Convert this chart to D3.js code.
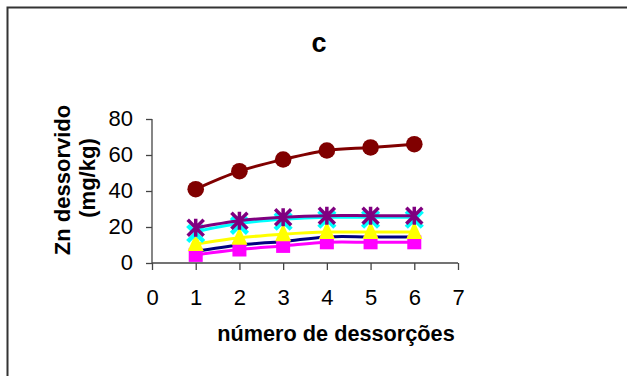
<!DOCTYPE html>
<html>
<head>
<meta charset="utf-8">
<script src="https://cdn.jsdelivr.net/npm/d3@7"></script>
<style>
  body { margin: 0; background: #fff; }
  text { font-family: "Liberation Sans", Arial, sans-serif; }
</style>
</head>
<body>
<svg id="chart" width="627" height="376"></svg>
<script>
// data
const dessorcoes = [1, 2, 3, 4, 5, 6];
const serieNavy = [6.5, 10, 12, 14.5, 14.5, 14.5];
const serieMagenta = [4.5, 7.5, 9.5, 11.5, 11.5, 11.5];
const serieYellow = [10.5, 14, 16, 17.2, 17.2, 17.2];
const serieCyan = [17.5, 22, 24.3, 25.4, 25.4, 25.4];
const seriePurple = [19.6, 23.5, 25.4, 26.3, 26.3, 26.3];
const serieBrown = [41, 51, 57.5, 62.5, 64.2, 66];
const xTicks = [0, 1, 2, 3, 4, 5, 6, 7];
const yTicks = [0, 20, 40, 60, 80];

const series = [
  { values: serieNavy, color: "#000080", marker: "diamond" },
  { values: serieMagenta, color: "#ff00ff", marker: "square" },
  { values: serieYellow, color: "#ffff00", marker: "triangle" },
  { values: serieCyan, color: "#00ffff", marker: "x" },
  { values: seriePurple, color: "#800080", marker: "star" },
  { values: serieBrown, color: "#800000", marker: "circle" }
];

const svg = d3.select("#chart");

//chart frame
svg.append("rect")
  .attr("x", 7.5).attr("y", 7.5)
  .attr("width", 640).attr("height", 400)
  .attr("fill", "none")
  .attr("stroke", "#333")
  .attr("stroke-width", 2);

const x = d3.scaleLinear().domain([0, 7]).range([152, 458]);
const y = d3.scaleLinear().domain([0, 80]).range([263, 119]);

//axes
const xAxis = svg.append("g")
  .attr("transform", "translate(0,263)")
  .call(d3.axisBottom(x).tickValues(xTicks).tickFormat(d3.format("d")).tickSize(7).tickPadding(19));
const yAxis = svg.append("g")
  .attr("transform", "translate(152,0)")
  .call(d3.axisLeft(y).tickValues(yTicks).tickFormat(d3.format("d")).tickSize(6).tickPadding(13));

[xAxis, yAxis].forEach(function (a) {
  a.selectAll("path,line").attr("stroke", "#444").attr("stroke-width", 1.3);
  a.selectAll("text")
    .attr("font-size", 22)
    .attr("fill", "#000")
    .style("font-family", "Liberation Sans, Arial, sans-serif");
});
yAxis.selectAll("text").attr("dy", "0.28em");
yAxis.select(".domain").attr("d", "M0,263V119");
xAxis.select(".domain").attr("d", "M152,0H458");

//lines
const line = d3.line()
  .x(function (d, i) { return x(dessorcoes[i]); })
  .y(function (d) { return y(d); })
  .curve(d3.curveCatmullRom.alpha(0.5));

function drawMarker(g, type, color, cx, cy) {
  if (type === "circle") {
    g.append("circle").attr("cx", cx).attr("cy", cy).attr("r", 8.3).attr("fill", color);
  } else if (type === "square") {
    g.append("rect").attr("x", cx - 7).attr("y", cy - 7)
      .attr("width", 14).attr("height", 14).attr("fill", color);
  } else if (type === "triangle") {
    g.append("path")
      .attr("d", "M" + cx + "," + (cy - 11) + "L" + (cx + 8) + "," + (cy + 7) + "L" + (cx - 8) + "," + (cy + 7) + "Z")
      .attr("fill", color);
  } else if (type === "diamond") {
    g.append("path")
      .attr("d", "M" + cx + "," + (cy - 7) + "L" + (cx + 7) + "," + cy + "L" + cx + "," + (cy + 7) + "L" + (cx - 7) + "," + cy + "Z")
      .attr("fill", color);
  } else if (type === "x") {
    g.append("path")
      .attr("d", "M" + (cx - 8) + "," + (cy - 6) + "L" + (cx + 8) + "," + (cy + 10) + "M" + (cx + 8) + "," + (cy - 6) + "L" + (cx - 8) + "," + (cy + 10))
      .attr("stroke", color).attr("stroke-width", 4.5);
  } else if (type === "star") {
    g.append("path")
      .attr("d", "M" + (cx - 8) + "," + (cy - 8) + "L" + (cx + 8) + "," + (cy + 8) +
        "M" + (cx + 8) + "," + (cy - 8) + "L" + (cx - 8) + "," + (cy + 8) +
        "M" + cx + "," + (cy - 9) + "L" + cx + "," + (cy + 9))
      .attr("stroke", color).attr("stroke-width", 3.5);
  }
}

series.forEach(function (s) {
  const g = svg.append("g");
  g.append("path")
    .datum(s.values)
    .attr("d", line)
    .attr("fill", "none")
    .attr("stroke", s.color)
    .attr("stroke-width", 3);
  s.values.forEach(function (v, i) {
    drawMarker(g, s.marker, s.color, x(dessorcoes[i]), y(v));
  });
});

//title and labels
svg.append("text")
  .attr("x", 319).attr("y", 52)
  .attr("text-anchor", "middle")
  .attr("font-size", 27).attr("font-weight", "bold")
  .text("c");

const yLab = svg.append("text")
  .attr("transform", "translate(70,180) rotate(-90)")
  .attr("text-anchor", "middle")
  .attr("font-size", 22).attr("font-weight", "bold");
yLab.append("tspan").attr("x", 0).attr("y", 0).text("Zn dessorvido");
yLab.append("tspan").attr("x", 2).attr("y", 25).text("(mg/kg)");

svg.append("text")
  .attr("x", 336).attr("y", 341)
  .attr("text-anchor", "middle")
  .attr("font-size", 21.7).attr("font-weight", "bold")
  .text("número de dessorções");
</script>
</body>
</html>
